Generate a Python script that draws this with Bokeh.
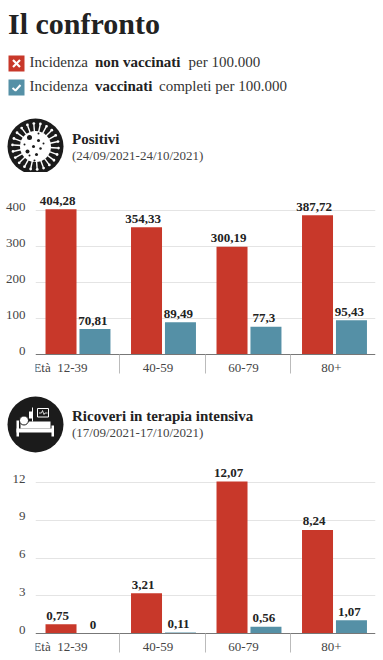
import math
from bokeh.plotting import figure
from bokeh.layouts import column
from bokeh.models import Range1d, LinearAxis, FixedTicker
from bokeh.core.properties import value
from bokeh.embed import file_html
from bokeh.resources import INLINE

title = "Il confronto"
age_labels = ["Età\u00a0 12-39", "40-59", "60-79", "80+"]
pos_red = [404.28, 354.33, 300.19, 387.72]
pos_blue = [70.81, 89.49, 77.3, 95.43]
pos_red_txt = ["404,28", "354,33", "300,19", "387,72"]
pos_blue_txt = ["70,81", "89,49", "77,3", "95,43"]
pos_ticks = [0, 100, 200, 300, 400]
icu_red = [0.75, 3.21, 12.07, 8.24]
icu_blue = [0, 0.11, 0.56, 1.07]
icu_red_txt = ["0,75", "3,21", "12,07", "8,24"]
icu_blue_txt = ["0", "0,11", "0,56", "1,07"]
icu_ticks = [0, 3, 6, 9, 12]

SERIF = "Liberation Serif"
RED, BLUE, INK = "#C8382A", "#5590A6", "#222222"
W = 383


def header(top, bottom):
    p = figure(width=W, height=bottom - top, x_range=Range1d(0, W), y_range=Range1d(bottom, top),
               toolbar_location=None, output_backend="svg", min_border=0, outline_line_color=None,
               x_axis_type=None, y_axis_type=None, frame_align=False)
    p.grid.visible = False
    return p


def put(p, x, y, t, size, bold=False, color=INK):
    p.text([x], [y - 0.3 * size], text=[t], text_font=value(SERIF), text_font_size=f"{size}px",
           text_font_style="bold" if bold else "normal", text_color=color,
           text_baseline="alphabetic", text_align="left")


def chart(top, bottom, zero_y, px_per_unit, ticks, red, blue, red_txt, blue_txt):
    ustart = -(bottom - zero_y) / px_per_unit
    uend = (zero_y - top) / px_per_unit
    unit = 85.5
    p = figure(width=W, height=bottom - top, toolbar_location=None, output_backend="svg",
               x_range=Range1d((35 - 33.5) / unit, (375 - 33.5) / unit),
               y_range=Range1d(ustart, uend), min_border=0, min_border_left=35, min_border_right=8,
               outline_line_color=None, x_axis_type=None, y_axis_type=None, frame_align=False)
    p.grid.visible = False
    xr = [i + 0.5 - 0.184 for i in range(4)]
    xb = [i + 0.5 + 0.213 for i in range(4)]
    bw = 31 / unit
    p.vbar(x=xr, top=red, width=bw, bottom=0, color=RED, line_color=None)
    p.vbar(x=xb, top=blue, width=bw, bottom=0, color=BLUE, line_color=None)
    for xs, ys, ts, off in ((xr, red, red_txt, -3.5), (xb, blue, blue_txt, -2)):
        p.text(xs, ys, text=ts, text_font=value(SERIF), text_font_size="13px", text_font_style="bold",
               text_color=INK, text_align="center", text_baseline="alphabetic", x_offset=off, y_offset=-8.5)

    # horizontal rules
    for t in ticks[1:]:
        p.hspan(y=[t], line_color="#e4e4e4", line_width=1, level="underlay")

    # y tick labels sit 4px above their rule: separate range shifted by 4px
    shift = 4 / px_per_unit
    p.extra_y_ranges = {"lab": Range1d(ustart - shift, uend - shift)}
    ya = LinearAxis(y_range_name="lab", ticker=FixedTicker(ticks=ticks), axis_line_color=None,
                    major_tick_line_color=None, minor_tick_line_color=None, major_tick_in=0, major_tick_out=0,
                    major_label_standoff=10,
                    major_label_text_font=SERIF, major_label_text_font_size="13px",
                    major_label_text_color="#444444")
    p.add_layout(ya, "left")

    # baseline and separators
    sep = LinearAxis(fixed_location=0, ticker=FixedTicker(ticks=[1, 2, 3]), axis_line_color="#777777",
                     axis_line_width=1, major_tick_line_color="#bbbbbb", major_tick_in=0, major_tick_out=19,
                     minor_tick_line_color=None, major_label_overrides={1: "", 2: "", 3: ""})
    p.add_layout(sep, "below")
    # age labels
    lab_pos = [0.31, 1.45, 2.45, 3.48]
    la = LinearAxis(fixed_location=0, ticker=FixedTicker(ticks=lab_pos), axis_line_color=None,
                    major_tick_line_color=None, major_tick_in=0, major_tick_out=0, minor_tick_line_color=None,
                    major_label_standoff=5, major_label_text_font=SERIF, major_label_text_font_size="13px",
                    major_label_text_color="#444444",
                    major_label_overrides={k: v for k, v in zip(lab_pos, age_labels)})
    p.add_layout(la, "below")
    return p


# ---- top header ----
h1 = header(0, 172)
put(h1, 7.5, 32, title, 30, True)
h1.rect([16, 16], [63, 87], width=16, height=16, color=[RED, BLUE], line_color=None)
h1.multi_line([[12.5, 19.5], [12.5, 19.5]], [[59.5, 66.5], [66.5, 59.5]], line_color="white", line_width=2.2)
h1.line([12, 15, 20], [87.5, 90, 84.5], line_color="white", line_width=2)
put(h1, 29, 66, "Incidenza", 15, color="#333333")
put(h1, 94.5, 66, "non vaccinati", 15, True)
put(h1, 188, 66, "per 100.000", 15, color="#333333")
put(h1, 29, 90, "Incidenza", 15, color="#333333")
put(h1, 94.5, 90, "vaccinati", 15, True)
put(h1, 158.5, 90, "completi per 100.000", 15, color="#333333")
# virus icon
cx, cy = 35, 146
h1.scatter([cx], [cy], size=56, color="#1b1b1b", line_color=None)
h1.scatter([cx], [cy], size=31, color="white", line_color=None)
n = 22
sx, sy, ex, ey = [], [], [], []
for i in range(n):
    a = 2 * math.pi * i / n + 0.07
    sx.append([cx + 14 * math.cos(a), cx + 22 * math.cos(a)])
    sy.append([cy + 14 * math.sin(a), cy + 22 * math.sin(a)])
    ex.append(cx + 23 * math.cos(a))
    ey.append(cy + 23 * math.sin(a))
h1.multi_line(sx, sy, line_color="white", line_width=1.4)
h1.scatter(ex, ey, size=2.8, color="white", line_color=None)
h1.scatter([29, 38, 33, 27, 40, 36, 43, 34, 29, 24, 38],
           [137, 140, 146, 151, 148, 154, 143, 160, 155, 144, 133],
           size=[5, 3, 3, 4, 2.5, 3, 2, 2, 2, 2, 2], color="#1b1b1b", line_color=None)
put(h1, 71.5, 143, "Positivi", 15, True)
put(h1, 71.5, 158.5, "(24/09/2021-24/10/2021)", 13, color="#444444")

# ---- positive chart ----
c1 = chart(172, 378, 354, 143.7 / 400, pos_ticks, pos_red, pos_blue, pos_red_txt, pos_blue_txt)

# ---- second header ----
h2 = header(378, 455)
ix, iy = 35, 424
h2.scatter([ix], [iy], size=56, color="#1b1b1b", line_color=None)
W1 = "white"
h2.quad(left=[16, 51, 16, 20], right=[18.5, 53.5, 53, 50], top=[420, 425, 428, 421], bottom=[436, 436, 432, 428],
        color=W1, line_color=None)
h2.scatter([23.5], [420], size=9, color=W1, line_color="#1b1b1b", line_width=1)
h2.line([32, 32], [407, 421], line_color=W1, line_width=1)
h2.quad(left=[28.5], right=[31.5], top=[411], bottom=[418], color=W1, line_color=None)
h2.quad(left=[37], right=[48], top=[408], bottom=[416.5], fill_color="#1b1b1b", line_color=W1, line_width=1)
h2.line([38.5, 41, 42, 43.5, 44.5, 47], [412.5, 412.5, 410, 414, 412.5, 412.5], line_color=W1, line_width=0.8)
put(h2, 71.5, 420, "Ricoveri in terapia intensiva", 15, True)
put(h2, 71.5, 435.5, "(17/09/2021-17/10/2021)", 13, color="#444444")

# ---- ICU chart ----
c2 = chart(455, 660, 633.3, 151.3 / 12, icu_ticks, icu_red, icu_blue, icu_red_txt, icu_blue_txt)

page = column(h1, c1, h2, c2, spacing=0)
open("out.html", "w").write(file_html(page, INLINE))
